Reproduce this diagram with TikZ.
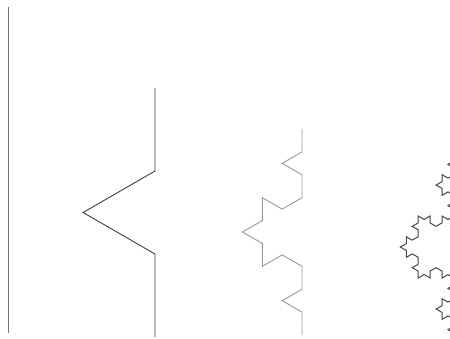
\documentclass[tikz,border=0pt]{standalone}
\usetikzlibrary{decorations.fractals}
\begin{document}
\begin{tikzpicture}[x=1pt,y=-1pt,
  curve/.style={line width=0.9pt,line join=miter,decoration=Koch snowflake}]
\useasboundingbox (0,0) rectangle (450,338);
\clip (0,0) rectangle (450,338);
\fill[white] (0,0) rectangle (450,338);
% level 0
\draw[curve,draw=black!55] (8,333) -- (8,7);
% level 1
\draw[curve,draw=black!75] decorate{(155,337) -- (155,88)};
% level 2
\draw[curve,draw=black!40] decorate{decorate{(302,335) -- (302,129)}};
% level 3
\draw[curve,line width=1pt,draw=black!72] decorate{decorate{decorate{(454,340) -- (454,154)}}};
\end{tikzpicture}
\end{document}
